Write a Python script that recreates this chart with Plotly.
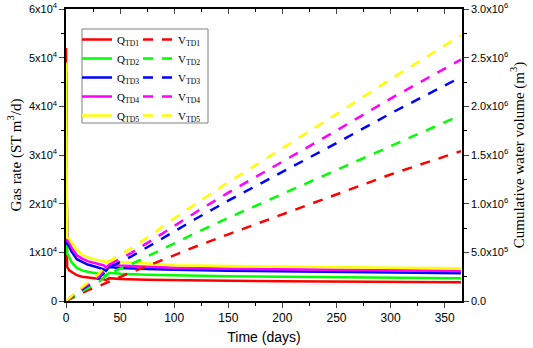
import plotly.graph_objects as go

# ---- data ----
t_q = [0, 1, 3, 5, 10, 15, 20, 25, 30, 35, 37, 40, 45, 50, 75, 100, 150, 200, 250, 300, 365]
q_td1 = [52000, 7000, 6300, 6000, 5300, 5000, 4800, 4650, 4550, 4450, 4300, 4700, 4600, 4500, 4350, 4250, 4150, 4050, 3980, 3920, 3840]
q_td2 = [42000, 9800, 9000, 8000, 6800, 6300, 6000, 5800, 5650, 5500, 5300, 5800, 5700, 5600, 5400, 5250, 5100, 5000, 4900, 4800, 4660]
q_td3 = [45000, 11800, 11200, 10200, 8600, 8000, 7500, 7200, 6900, 6500, 6200, 7000, 6900, 6800, 6600, 6400, 6200, 6050, 5950, 5850, 5700]
q_td4 = [47000, 12400, 12000, 11000, 9400, 8700, 8200, 7900, 7600, 7300, 6900, 7500, 7400, 7300, 7050, 6850, 6650, 6500, 6400, 6300, 6150]
q_td5 = [49000, 13000, 12800, 12000, 10500, 9500, 9000, 8600, 8400, 8200, 8000, 8300, 8100, 8000, 7700, 7350, 7200, 7050, 6950, 6850, 6720]

t_v = [0, 10, 20, 30, 40, 60, 80, 100, 120, 150, 200, 250, 300, 365]
v_td1 = [0, 55000, 110000, 150000, 200000, 295000, 380000, 470000, 560000, 685000, 890000, 1100000, 1300000, 1540000]
v_td2 = [0, 70000, 130000, 193000, 287000, 378000, 483000, 595000, 700000, 854000, 1100000, 1345000, 1596000, 1910000]
v_td3 = [0, 84000, 156000, 232000, 346000, 456000, 583000, 718000, 845000, 1031000, 1327000, 1622000, 1927000, 2300000]
v_td4 = [0, 91000, 169000, 251000, 374000, 492000, 629000, 775000, 912000, 1113000, 1432000, 1751000, 2080000, 2480000]
v_td5 = [0, 100000, 185000, 275000, 410000, 540000, 690000, 850000, 1000000, 1220000, 1570000, 1920000, 2280000, 2730000]

labels = ["TD1", "TD2", "TD3", "TD4", "TD5"]
colors = ["#FF0000", "#00FF00", "#0000FF", "#FF00FF", "#FFFF00"]

x_ticks = [0, 50, 100, 150, 200, 250, 300, 350]
y1_ticks = [0, 10000, 20000, 30000, 40000, 50000, 60000]
y1_text = ["0", "1x10<sup>4</sup>", "2x10<sup>4</sup>", "3x10<sup>4</sup>", "4x10<sup>4</sup>", "5x10<sup>4</sup>", "6x10<sup>4</sup>"]
y2_ticks = [0, 500000, 1000000, 1500000, 2000000, 2500000, 3000000]
y2_text = ["0.0", "5.0x10<sup>5</sup>", "1.0x10<sup>6</sup>", "1.5x10<sup>6</sup>", "2.0x10<sup>6</sup>", "2.5x10<sup>6</sup>", "3.0x10<sup>6</sup>"]

fig = go.Figure()
for lab, col, q in zip(labels, colors, [q_td1, q_td2, q_td3, q_td4, q_td5]):
    fig.add_trace(go.Scatter(x=t_q, y=q, mode="lines", name="Q<sub>%s</sub>" % lab,
                             line=dict(color=col, width=2.5), legend="legend", yaxis="y"))
for lab, col, v in zip(labels, colors, [v_td1, v_td2, v_td3, v_td4, v_td5]):
    fig.add_trace(go.Scatter(x=t_v, y=v, mode="lines", name="V<sub>%s</sub>" % lab,
                             line=dict(color=col, width=2.5, dash="10px,9px"), legend="legend2", yaxis="y2"))

W, H = 533, 348
L, R, T, B = 66, 71, 9, 47
pw, ph = W - L - R, H - T - B

def px(x):
    return (x - L) / pw

def py(y):
    return (H - B - y) / ph

tickfont = dict(family="Liberation Sans, Arial", size=11, color="black")
serif = "Liberation Serif, Times New Roman"

fig.update_layout(
    width=W, height=H, margin=dict(l=L, r=R, t=T, b=B),
    paper_bgcolor="white", plot_bgcolor="white",
    xaxis=dict(range=[0, 366], tickvals=x_ticks, ticks="outside", ticklen=5, tickwidth=1,
               showline=True, linecolor="black", linewidth=1.5, showgrid=False, zeroline=False,
               tickfont=dict(family="Liberation Sans, Arial", size=12, color="black"), automargin=False,
               minor=dict(dtick=25, tick0=0, ticks="outside", ticklen=3, tickcolor="black"),
               title=dict(text="Time (days)", font=dict(family="Liberation Sans, Arial", size=14, color="black"), standoff=8)),
    xaxis2=dict(range=[0, 366], overlaying="x", side="top", anchor="y", tickvals=x_ticks,
                ticks="inside", ticklen=5, showticklabels=False, showline=True, linecolor="black",
                linewidth=1.5, showgrid=False, zeroline=False, automargin=False,
                minor=dict(dtick=25, tick0=0, ticks="inside", ticklen=3, tickcolor="black")),
    yaxis=dict(range=[0, 60000], tickvals=y1_ticks, ticktext=y1_text, ticks="outside", ticklen=5,
               showline=True, linecolor="black", linewidth=1.5, showgrid=False, zeroline=False,
               tickfont=tickfont, automargin=False,
               minor=dict(dtick=5000, tick0=0, ticks="outside", ticklen=3, tickcolor="black"),
               title=dict(text="Gas rate (ST m<sup>3</sup>/d)", font=dict(family=serif, size=15, color="black"), standoff=4)),
    yaxis2=dict(range=[0, 3000000], overlaying="y", side="right", anchor="x", tickvals=y2_ticks, ticktext=y2_text,
                ticks="outside", ticklen=5, showline=True, linecolor="black", linewidth=1.5,
                showgrid=False, zeroline=False, tickfont=tickfont, automargin=False,
                minor=dict(dtick=250000, tick0=0, ticks="outside", ticklen=3, tickcolor="black"),
                title=dict(text="Cumulative water volume (m<sup>3</sup>)", font=dict(family=serif, size=15, color="black"), standoff=2)),
    legend=dict(x=px(77), y=py(25), xanchor="left", yanchor="top", bgcolor="rgba(0,0,0,0)",
                font=dict(family=serif, size=11, color="black"), tracegroupgap=0, itemwidth=30),
    legend2=dict(x=px(138), y=py(25), xanchor="left", yanchor="top", bgcolor="rgba(0,0,0,0)",
                 font=dict(family=serif, size=11, color="black"), tracegroupgap=0, itemwidth=30),
    shapes=[dict(type="rect", xref="paper", yref="paper", x0=px(82), x1=px(208), y0=py(123), y1=py(29),
                 line=dict(color="#808080", width=1))],
)
fig.add_trace(go.Scatter(x=[], y=[], xaxis="x2", yaxis="y", showlegend=False))

fig.write_html("out.html", post_script="document.body.style.margin='0px';",
               config={"displayModeBar": False})
